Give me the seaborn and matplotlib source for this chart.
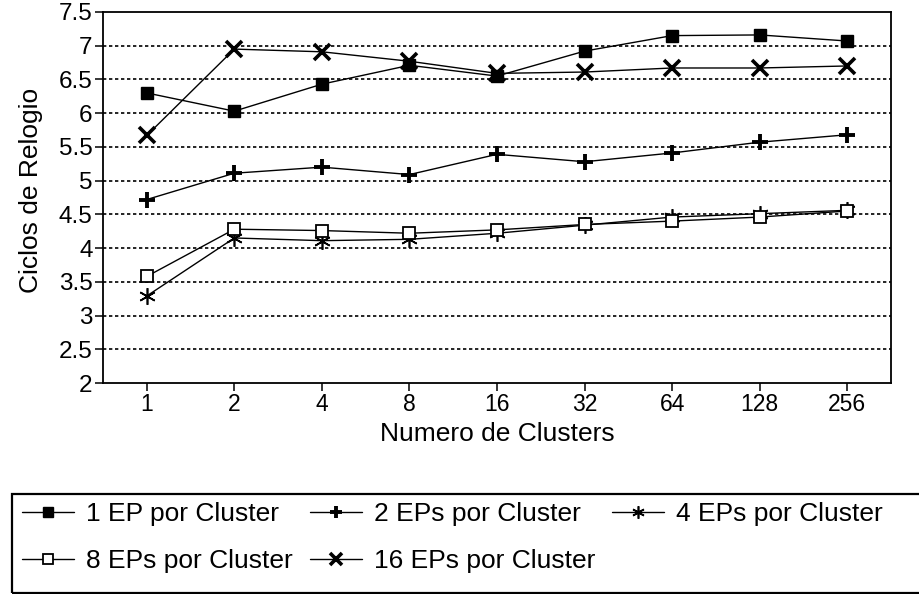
import matplotlib
matplotlib.use("Agg")
import matplotlib.pyplot as plt
from matplotlib.patches import Rectangle
import seaborn as sns
import pandas as pd

# ---- data ----
clusters = [1, 2, 4, 8, 16, 32, 64, 128, 256]
tick_labels = ["1", "2", "4", "8", "16", "32", "64", "128", "256"]
ep1 = [6.30, 6.03, 6.43, 6.71, 6.55, 6.92, 7.15, 7.16, 7.07]
ep2 = [4.72, 5.11, 5.20, 5.09, 5.39, 5.28, 5.41, 5.57, 5.68]
ep4 = [3.29, 4.15, 4.11, 4.13, 4.22, 4.34, 4.46, 4.51, 4.56]
ep8 = [3.58, 4.28, 4.26, 4.22, 4.27, 4.35, 4.40, 4.46, 4.55]
ep16 = [5.67, 6.95, 6.91, 6.77, 6.59, 6.61, 6.67, 6.67, 6.70]
series_names = ["1 EP por Cluster", "2 EPs por Cluster", "4 EPs por Cluster",
                "8 EPs por Cluster", "16 EPs por Cluster"]
series_values = [ep1, ep2, ep4, ep8, ep16]
y_ticks = [2, 2.5, 3, 3.5, 4, 4.5, 5, 5.5, 6, 6.5, 7, 7.5]

rows = []
for name, vals in zip(series_names, series_values):
    for c, v in zip(clusters, vals):
        rows.append({"serie": name, "clusters": c, "ciclos": v})
df = pd.DataFrame(rows)

sns.set_theme(style="white")
plt.rcParams["font.family"] = ["Liberation Sans", "DejaVu Sans"]

fig = plt.figure(figsize=(9.2, 5.94), dpi=100)
ax = fig.add_axes([103 / 920, 1 - 383 / 594, (891 - 103) / 920, (383 - 12) / 594])

styles = {
    "1 EP por Cluster": dict(marker="s", markersize=9, markerfacecolor="black",
                             markeredgecolor="black", markeredgewidth=1),
    "2 EPs por Cluster": dict(marker="+", markersize=12, markeredgecolor="black",
                              markeredgewidth=2.8),
    "4 EPs por Cluster": dict(marker=(6, 2, 0), markersize=12, markeredgecolor="black",
                              markeredgewidth=1.2),
    "8 EPs por Cluster": dict(marker="s", markersize=9, markerfacecolor="white",
                              markeredgecolor="black", markeredgewidth=1.3),
    "16 EPs por Cluster": dict(marker="x", markersize=11, markeredgecolor="black",
                               markeredgewidth=2.6),
}

handles = {}
for name in series_names:
    sub = df[df["serie"] == name]
    sns.lineplot(data=sub, x="clusters", y="ciclos", ax=ax, color="black",
                 linewidth=1.0, legend=False, zorder=3, **styles[name])
    handles[name] = ax.lines[-1]

ax.set_xscale("log", base=2)
ax.set_xlim(2 ** -0.5, 2 ** 8.5)
ax.set_xticks(clusters)
ax.set_xticklabels(tick_labels)
ax.minorticks_off()
ax.set_ylim(2, 7.5)
ax.set_yticks(y_ticks)
ax.set_yticklabels([f"{t:g}" for t in y_ticks])

for t in y_ticks[1:-1]:
    ax.axhline(t, color="black", linewidth=1.2, linestyle=(0, (2, 1.6)), zorder=1)

for s in ax.spines.values():
    s.set_visible(True)
    s.set_color("black")
    s.set_linewidth(1.3)

ax.tick_params(axis="both", which="major", direction="out", length=6, width=1.1,
               color="black", labelsize=16.5, labelcolor="black", pad=1.5,
               bottom=True, left=True)
ax.tick_params(axis="y", labelsize=17.5)
ax.set_xlabel("Numero de Clusters", fontsize=19, color="black", labelpad=4)
ax.set_ylabel("Ciclos de Relogio", fontsize=19, color="black")
ax.yaxis.set_label_coords(-0.076, 0.52)
ax.grid(False)

# legend frame (extends beyond the right edge)
fig.patches.append(Rectangle((12 / 920, 1.5 / 594), 1.0, (593 - 494) / 594,
                             transform=fig.transFigure, fill=False,
                             edgecolor="black", linewidth=1.6))

order = ["1 EP por Cluster", "8 EPs por Cluster", "2 EPs por Cluster",
         "16 EPs por Cluster", "4 EPs por Cluster"]
leg = fig.legend([handles[n] for n in order], order, loc="upper left",
                 bbox_to_anchor=(22 / 920, 1 - 502 / 594), ncol=3, frameon=False,
                 fontsize=19, handlelength=1.97, handletextpad=0.45,
                 columnspacing=0.65, labelspacing=0.87, markerscale=0.75,
                 borderaxespad=0, borderpad=0.0)
for t in leg.get_texts():
    t.set_color("black")

fig.savefig("out.png", dpi=100, facecolor="white")
